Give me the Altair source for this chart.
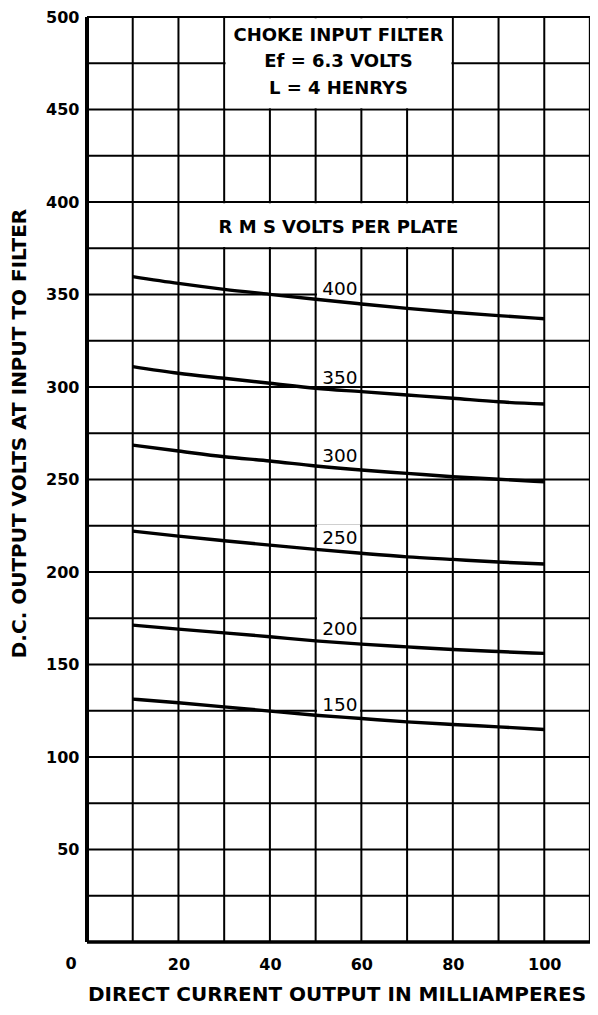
import altair as alt
import pandas as pd

# ---- data ----
current_ma = [10, 20, 30, 40, 50, 60, 70, 80, 90, 100]
v400 = [359.7, 356.0, 352.8, 350.1, 347.4, 344.9, 342.5, 340.4, 338.6, 336.9]
v350 = [311.0, 307.4, 304.7, 302.0, 299.3, 297.5, 295.7, 293.9, 292.0, 290.8]
v300 = [268.6, 265.4, 262.3, 260.0, 257.3, 255.1, 253.3, 251.5, 250.1, 248.8]
v250 = [222.1, 219.4, 216.9, 214.5, 212.2, 210.1, 208.2, 206.8, 205.4, 204.3]
v200 = [171.3, 169.1, 167.1, 165.0, 162.8, 161.0, 159.5, 158.1, 157.0, 156.0]
v150 = [131.3, 129.3, 127.1, 124.8, 122.6, 120.8, 119.0, 117.6, 116.3, 114.9]

rms_names = ["400", "350", "300", "250", "200", "150"]
rms_label_x = [55.3, 55.3, 55.3, 55.3, 55.3, 55.3]
rms_label_y = [353.0, 305.0, 262.5, 218.5, 169.0, 128.0]

x_ticks = [20, 40, 60, 80, 100]
x_origin_label = ["0"]
y_ticks = [50, 100, 150, 200, 250, 300, 350, 400, 450, 500]
x_grid = [10, 20, 30, 40, 50, 60, 70, 80, 90, 100]
y_grid = [25, 50, 75, 100, 125, 150, 175, 200, 225, 250, 275, 300, 325, 350,
          375, 400, 425, 450, 475]

box_lines = ["CHOKE INPUT FILTER", "Ef = 6.3 VOLTS", "L = 4 HENRYS"]
box_line_y = [489.6, 475.8, 460.9]
box_x = 55
box_extent = [30, 80, 450, 500]
rms_title = "R M S VOLTS PER PLATE"
rms_title_y = 386.2
rms_box_extent = [20, 90, 375, 400]

FONT = "DejaVu Sans"
X_DOMAIN = [0, 110]
Y_DOMAIN = [0, 500]

xs = alt.Scale(domain=X_DOMAIN, nice=False, zero=False)
ys = alt.Scale(domain=Y_DOMAIN, nice=False, zero=False)

X_AX = alt.Axis(
    values=x_ticks, grid=False, ticks=False, domain=False,
    labelFont=FONT, labelFontSize=16, labelFontWeight="bold", labelColor="black",
    labelPadding=14,
    title="DIRECT CURRENT OUTPUT IN MILLIAMPERES",
    titleFont=FONT, titleFontSize=20, titleFontWeight="bold", titleColor="black",
    titleX=249.5, titleY=52, titleAlign="center", titleBaseline="middle",
)
Y_AX = alt.Axis(
    values=y_ticks, grid=False, ticks=False, domain=False,
    labelFont=FONT, labelFontSize=16, labelFontWeight="bold", labelColor="black",
    labelPadding=8,
    title="D.C. OUTPUT VOLTS AT INPUT TO FILTER",
    titleFont=FONT, titleFontSize=20, titleFontWeight="bold", titleColor="black",
    titleAngle=270, titleX=-67.5, titleY=416, titleAlign="center", titleBaseline="middle",
)


def X(field):
    return alt.X(field, scale=xs, axis=X_AX)


def Y(field):
    return alt.Y(field, scale=ys, axis=Y_AX)


# ---- tables ----
series = {"400": v400, "350": v350, "300": v300, "250": v250, "200": v200, "150": v150}
curves = pd.DataFrame(
    [{"ma": m, "v": v, "rms": k} for k, vals in series.items() for m, v in zip(current_ma, vals)]
)
grid_x_df = pd.DataFrame({"ma": x_grid})
grid_y_df = pd.DataFrame({"v": y_grid})

ins_x, ins_y = 0.3, 0.65
masks = pd.DataFrame([
    {"ma": box_extent[0] + ins_x, "ma2": box_extent[1] - ins_x,
     "v": box_extent[2] + ins_y, "v2": box_extent[3] - ins_y},
    {"ma": rms_box_extent[0] + ins_x, "ma2": rms_box_extent[1] - ins_x,
     "v": rms_box_extent[2] + ins_y, "v2": rms_box_extent[3] - ins_y},
] + [
    {"ma": 50.3, "ma2": 59.7, "v": yy - 4.0, "v2": yy + 7.0} for yy in rms_label_y
])

labels_df = pd.DataFrame({"ma": rms_label_x, "v": rms_label_y, "t": rms_names})
box_df = pd.DataFrame({"ma": [box_x] * 3, "v": box_line_y, "t": box_lines})
rms_df = pd.DataFrame({"ma": [box_x], "v": [rms_title_y], "t": [rms_title]})
origin_df = pd.DataFrame({"ma": [X_DOMAIN[0]], "v": [Y_DOMAIN[0]], "t": x_origin_label})

# ---- layers ----
curve_layer = alt.Chart(curves).mark_line(
    color="black", strokeWidth=3.4, interpolate="monotone", strokeCap="butt"
).encode(x=X("ma:Q"), y=Y("v:Q"), detail="rms:N")

vgrid = alt.Chart(grid_x_df).mark_rule(color="black", strokeWidth=2).encode(x=X("ma:Q"))
hgrid = alt.Chart(grid_y_df).mark_rule(color="black", strokeWidth=2).encode(y=Y("v:Q"))
mask_layer = alt.Chart(masks).mark_rect(color="white", strokeWidth=0).encode(
    x=X("ma:Q"), x2="ma2:Q", y=Y("v:Q"), y2="v2:Q",
)

left_border = alt.Chart(pd.DataFrame({"ma": [X_DOMAIN[0]]})).mark_rule(
    color="black", strokeWidth=4).encode(x=X("ma:Q"))
right_border = alt.Chart(pd.DataFrame({"ma": [X_DOMAIN[1]]})).mark_rule(
    color="black", strokeWidth=2.3).encode(x=X("ma:Q"))
bottom_border = alt.Chart(pd.DataFrame({"v": [Y_DOMAIN[0]]})).mark_rule(
    color="black", strokeWidth=3.3).encode(y=Y("v:Q"))
top_border = alt.Chart(pd.DataFrame({"v": [Y_DOMAIN[1]]})).mark_rule(
    color="black", strokeWidth=2).encode(y=Y("v:Q"))

curve_labels = alt.Chart(labels_df).mark_text(
    font=FONT, fontSize=18.5, color="black", align="center", baseline="middle"
).encode(x=X("ma:Q"), y=Y("v:Q"), text="t:N")
box_text = alt.Chart(box_df).mark_text(
    font=FONT, fontSize=18, fontWeight="bold", color="black", align="center", baseline="middle"
).encode(x=X("ma:Q"), y=Y("v:Q"), text="t:N")
rms_text = alt.Chart(rms_df).mark_text(
    font=FONT, fontSize=18, fontWeight="bold", color="black", align="center", baseline="middle"
).encode(x=X("ma:Q"), y=Y("v:Q"), text="t:N")
origin_text = alt.Chart(origin_df).mark_text(
    font=FONT, fontSize=16, fontWeight="bold", color="black", align="center", baseline="middle",
    dx=-16, dy=22,
).encode(x=X("ma:Q"), y=Y("v:Q"), text="t:N")

chart = alt.layer(
    curve_layer, vgrid, hgrid, mask_layer, left_border, right_border, bottom_border, top_border,
    curve_labels, box_text, rms_text, origin_text,
).properties(
    width=503, height=925,
    autosize=alt.AutoSizeParams(type="none"),
    padding={"left": 79, "top": 9, "right": 0, "bottom": 64},
    background="white",
).configure_view(stroke=None)

chart.save("out.html", embed_options={"renderer": "svg", "actions": False})
